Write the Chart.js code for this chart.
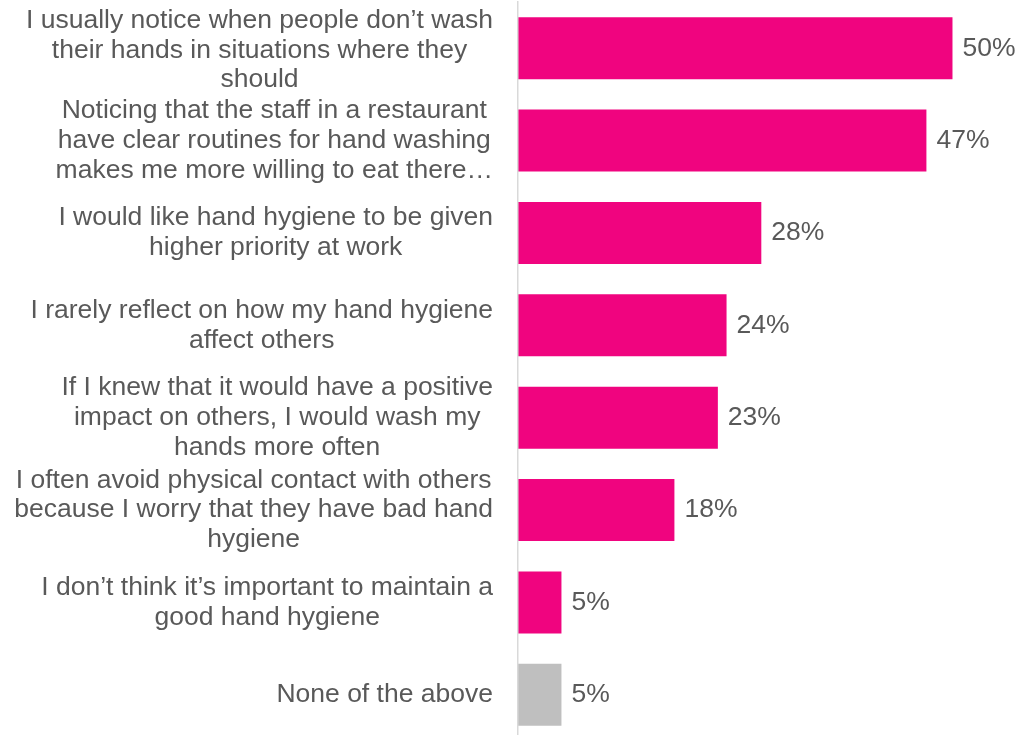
<!DOCTYPE html>
<html>
<head>
<meta charset="utf-8">
<script src="https://cdn.jsdelivr.net/npm/chart.js@4/dist/chart.umd.min.js"></script>
<style>
  html, body { margin: 0; padding: 0; background: #ffffff; overflow: hidden; }
  canvas { display: block; }
</style>
</head>
<body>
<canvas id="chart" width="1022" height="741"></canvas>
<script>
// Survey statements (wrapped into lines) and share of respondents agreeing
const statements = [
  ["I usually notice when people don\u2019t wash", "their hands in situations where they", "should"],
  ["Noticing that the staff in a restaurant", "have clear routines for hand washing", "makes me more willing to eat there\u2026"],
  ["I would like hand hygiene to be given", "higher priority at work"],
  ["I rarely reflect on how my hand hygiene", "affect others"],
  ["If I knew that it would have a positive", "impact on others, I would wash my", "hands more often"],
  ["I often avoid physical contact with others", "because I worry that they have bad hand", "hygiene"],
  ["I don\u2019t think it\u2019s important to maintain a", "good hand hygiene"],
  ["None of the above"]
];
const agreePct = [50, 47, 28, 24, 23, 18, 5, 5];
const valueLabels = agreePct.map(v => v + "%");
const scaleMax = 58;

// Styling
const FONT = "26.5px 'Liberation Sans', Arial, sans-serif";
const TEXT_COLOR = "#595959";
const ACCENT = "#F0047F";
const NEUTRAL = "#BFBFBF";
const LABEL_RIGHT = 493;
const LINE_HEIGHT = 29.8;
const AXIS_WIDTH = 518;

// Multi-line category labels: each block right-aligned, lines centred within it
const categoryLabels = {
  id: "categoryLabels",
  afterDraw(chart) {
    const ctx = chart.ctx;
    const yScale = chart.scales.y;
    ctx.save();
    ctx.font = FONT;
    ctx.fillStyle = TEXT_COLOR;
    ctx.textAlign = "center";
    ctx.textBaseline = "middle";
    statements.forEach((lines, i) => {
      const cy = yScale.getPixelForValue(i) + (i === 0 ? 2 : 0);
      const w = Math.max(...lines.map(l => ctx.measureText(l).width));
      const cx = LABEL_RIGHT - w / 2;
      lines.forEach((line, k) => {
        ctx.fillText(line, cx, cy + (k - (lines.length - 1) / 2) * LINE_HEIGHT);
      });
    });
    ctx.restore();
  }
};

// Percentage labels just past the end of each bar
const valueTags = {
  id: "valueTags",
  afterDatasetsDraw(chart) {
    const ctx = chart.ctx;
    const meta = chart.getDatasetMeta(0);
    ctx.save();
    ctx.font = FONT;
    ctx.fillStyle = TEXT_COLOR;
    ctx.textAlign = "left";
    ctx.textBaseline = "middle";
    meta.data.forEach((bar, i) => {
      ctx.fillText(valueLabels[i], bar.x + 10, bar.y);
    });
    ctx.restore();
  }
};

new Chart(document.getElementById("chart"), {
  type: "bar",
  data: {
    labels: statements,
    datasets: [{
      data: agreePct,
      backgroundColor: ctx => ctx.dataIndex === statements.length - 1 ? NEUTRAL : ACCENT,
      barPercentage: 0.672,
      categoryPercentage: 1,
      borderWidth: 0
    }]
  },
  options: {
    indexAxis: "y",
    responsive: false,
    devicePixelRatio: 1,
    animation: false,
    layout: { padding: { top: 2, right: 0, bottom: 0, left: 0 } },
    plugins: {
      legend: { display: false },
      tooltip: { enabled: false }
    },
    scales: {
      x: {
        display: false,
        min: 0,
        max: scaleMax
      },
      y: {
        grid: { display: false, drawTicks: false },
        border: { display: true, color: "#D9D9D9", width: 1.5, z: 1 },
        ticks: { display: false },
        afterFit(scale) { scale.width = AXIS_WIDTH; }
      }
    }
  },
  plugins: [categoryLabels, valueTags]
});
</script>
</body>
</html>
